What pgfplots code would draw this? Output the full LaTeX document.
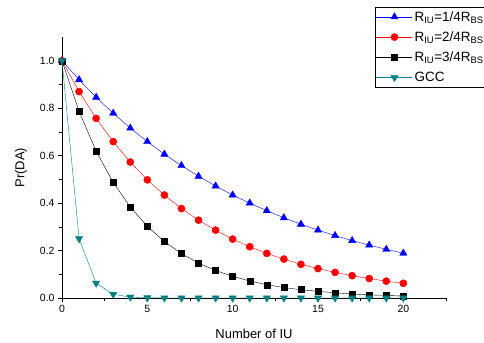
\documentclass[border=0pt]{standalone}
\usepackage{fontspec}
\setmainfont{Liberation Sans}
\usepackage{pgfplots}
\pgfplotsset{compat=1.18}
\definecolor{gcc}{RGB}{0,128,128}
\begin{document}
\begin{tikzpicture}[x=1bp,y=1bp]
\begin{axis}[
  scale only axis, width=384bp, height=261bp,
  xmin=0, xmax=22.5, ymin=0, ymax=1.1,
  axis x line*=bottom, axis y line*=left,
  xtick={0,5,10,15,20}, minor xtick={2.5,7.5,12.5,17.5,22.5},
  ytick={0,0.2,0.4,0.6,0.8,1.0}, minor ytick={0.1,0.3,0.5,0.7,0.9},
  yticklabel style={/pgf/number format/.cd,fixed,fixed zerofill,precision=1},
  /pgf/number format/assume math mode=true,
  tick align=outside, major tick length=4bp, minor tick length=2.5bp,
  tick style={black, line width=0.6pt},
  axis line style={line width=0.8pt},
  ticklabel style={font=\fontsize{10.5}{12}\selectfont},
  xlabel={Number of IU}, ylabel={Pr(DA)},
  label style={font=\fontsize{13}{15}\selectfont},
  xlabel style={yshift=-9bp},
  ylabel style={yshift=6bp},
  clip=false,
  legend style={at={(0.815,1.115)}, anchor=north west, draw=black, line width=0.6pt,
    font=\fontsize{13.5}{15}\selectfont, row sep=5bp, inner xsep=1bp, inner ysep=2bp},
  legend cell align=left,
  legend image code/.code={\draw[mark repeat=2,mark phase=2,#1] plot coordinates {(0bp,0bp) (18bp,0bp) (36bp,0bp)};},
]
\coordinate (O) at (rel axis cs:0,0);
\addplot[blue, thin, mark=triangle*, mark size=4.2bp, mark options={solid}] coordinates {
(0,1.0)(1,0.92)(2,0.846)(3,0.779)(4,0.716)(5,0.659)(6,0.606)(7,0.558)(8,0.513)(9,0.472)(10,0.434)
(11,0.400)(12,0.368)(13,0.338)(14,0.311)(15,0.286)(16,0.263)(17,0.242)(18,0.223)(19,0.205)(20,0.189)};
\addlegendentry{R\textsubscript{IU}=1/4R\textsubscript{BS}}
\addplot[red, thin, mark=*, mark size=3.6bp] coordinates {
(0,1.0)(1,0.87)(2,0.757)(3,0.659)(4,0.573)(5,0.498)(6,0.434)(7,0.377)(8,0.328)(9,0.286)(10,0.248)
(11,0.216)(12,0.188)(13,0.164)(14,0.142)(15,0.124)(16,0.108)(17,0.094)(18,0.082)(19,0.071)(20,0.062)};
\addlegendentry{R\textsubscript{IU}=2/4R\textsubscript{BS}}
\addplot[black, thin, mark=square*, mark size=3bp] coordinates {
(0,1.0)(1,0.787)(2,0.619)(3,0.487)(4,0.384)(5,0.302)(6,0.238)(7,0.187)(8,0.147)(9,0.116)(10,0.091)
(11,0.072)(12,0.056)(13,0.044)(14,0.035)(15,0.028)(16,0.022)(17,0.017)(18,0.013)(19,0.011)(20,0.008)};
\addlegendentry{R\textsubscript{IU}=3/4R\textsubscript{BS}}
\addplot[gcc, thin, mark=triangle*, mark size=4.2bp, mark options={rotate=180}] coordinates {
(0,1.0)(1,0.25)(2,0.0625)(3,0.0156)(4,0.0039)(5,0.001)(6,0)(7,0)(8,0)(9,0)(10,0)
(11,0)(12,0)(13,0)(14,0)(15,0)(16,0)(17,0)(18,0)(19,0)(20,0)};
\addlegendentry{GCC}
\end{axis}
\pgfresetboundingbox
\path[use as bounding box] ([shift={(-62bp,-45bp)}]O) rectangle ([shift={(422bp,298bp)}]O);
\end{tikzpicture}
\end{document}
